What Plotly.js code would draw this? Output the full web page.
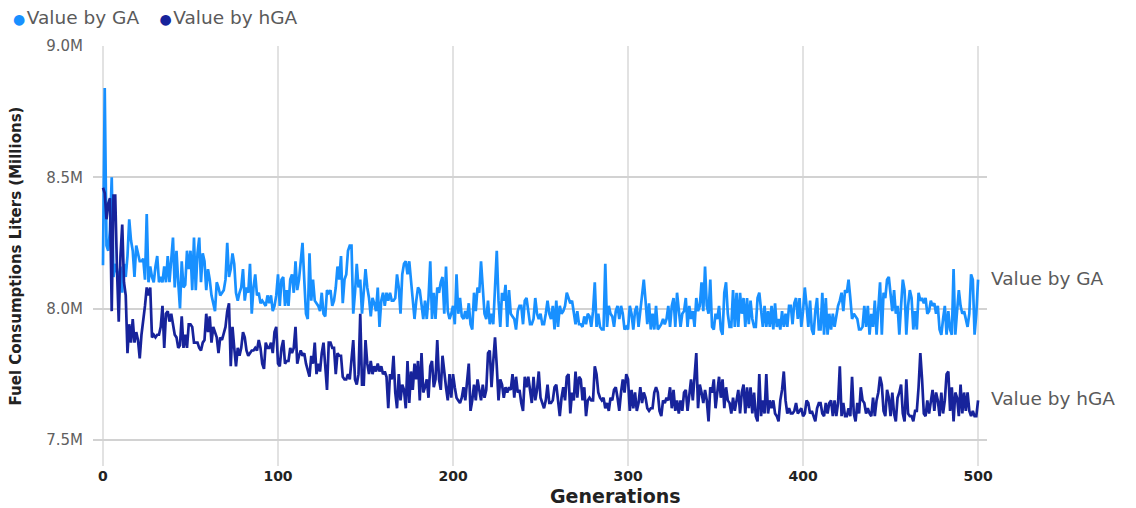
<!DOCTYPE html>
<html>
<head>
<meta charset="utf-8">
<script src="https://cdn.plot.ly/plotly-3.0.1.min.js"></script>
<style>html,body{margin:0;padding:0;background:#fff;}#chart{width:1136px;height:508px;}</style>
</head>
<body>
<div id="chart"></div>
<script>
// Values in millions of litres, one per generation (0..500)
var gaValues = [
8.165,8.84,8.24,8.22,8.30,8.50,8.12,8.17,8.14,8.11,
8.16,8.06,8.17,8.12,8.20,8.34,8.26,8.22,8.12,8.24,
8.21,8.18,8.18,8.19,8.11,8.36,8.10,8.16,8.12,8.10,
8.16,8.20,8.10,8.12,8.10,8.16,8.10,8.20,8.10,8.17,
8.27,8.08,8.22,8.10,8.00,8.18,8.08,8.09,8.22,8.15,
8.22,8.07,8.27,8.07,8.21,8.27,8.10,8.21,8.18,8.07,
8.15,8.11,8.05,8.02,7.99,8.10,8.08,8.05,8.06,8.07,
8.11,8.25,8.12,8.15,8.21,8.17,8.06,8.03,8.06,8.08,
8.15,8.03,8.08,8.06,8.17,7.98,8.08,8.13,8.05,8.06,
8.02,8.03,8.02,8.01,8.05,8.02,8.05,7.99,8.01,8.05,
8.13,
8.01,8.11,8.12,8.01,8.07,8.01,8.11,8.13,8.06,8.18,
8.07,8.11,8.18,8.25,8.11,7.98,7.96,8.21,8.03,8.11,
8.03,8.02,8.01,7.99,8.06,7.98,7.97,8.07,8.06,8.07,
8.01,8.03,8.08,8.16,8.11,8.20,8.02,8.11,8.13,8.22,
8.24,8.24,7.98,8.06,8.17,8.08,8.11,7.98,8.07,8.15,
8.08,8.04,
7.97,8.04,8.02,7.99,8.08,7.93,8.03,8.06,8.01,8.06,
8.03,8.06,8.03,8.03,8.04,8.13,8.08,7.98,8.13,8.17,
8.18,8.13,8.18,8.10,8.02,7.96,8.03,8.08,8.07,8.01,
7.96,8.03,7.96,8.04,8.18,7.96,8.06,7.96,8.08,8.06,
8.10,8.12,7.98,8.16,7.99,7.96,7.98,8.01,7.94,8.13,7.98,8.04,
7.97,7.96,7.99,7.96,8.02,7.94,7.92,8.06,7.99,8.08,
8.06,8.18,8.06,7.98,7.96,8.03,7.94,7.98,7.94,8.06,
8.22,8.03,7.93,8.06,8.03,8.09,7.93,8.07,7.98,7.97,
7.96,7.92,7.99,8.01,8.01,7.94,8.03,8.04,7.98,7.94,
7.94,7.96,8.04,7.98,7.96,7.98,7.94,7.94,7.98,8.03,7.98,
7.96,8.01,7.92,8.03,7.93,8.01,7.98,7.99,8.01,8.06,
8.04,8.02,8.03,7.98,7.94,7.99,7.94,7.94,7.93,7.97,
7.94,7.98,7.97,7.93,7.99,8.10,7.93,7.98,7.93,7.92,
7.92,8.17,7.93,8.01,7.98,7.97,7.93,7.99,8.01,7.96,
8.01,7.98,7.92,7.93,7.92,8.01,7.98,7.92,7.99,8.01,7.93,
7.99,8.04,8.11,8.03,7.94,8.02,7.92,7.98,7.92,8.01,
7.92,7.93,7.94,7.96,7.94,7.96,8.01,7.93,8.01,8.04,
7.93,8.06,7.98,7.93,7.98,7.99,8.04,7.93,8.01,7.96,
7.99,7.93,8.04,7.99,8.01,8.10,7.99,8.16,8.01,7.98,
8.11,7.93,7.92,7.98,7.96,8.01,7.92,7.90,8.06,8.10,7.98,7.93,
7.93,8.07,7.93,8.06,7.93,8.06,7.98,8.04,7.93,8.04,
7.94,8.03,7.96,7.93,7.93,8.04,8.06,7.98,7.93,8.01,
7.93,7.99,7.93,8.01,7.92,8.02,7.93,7.96,7.92,7.99,
7.93,7.98,7.93,8.01,8.01,7.94,8.02,8.04,7.96,8.04,
7.93,7.99,8.08,8.01,7.93,8.03,7.92,7.90,7.99,8.04,7.92,
7.92,8.06,7.90,8.04,7.90,7.98,7.92,7.98,7.93,7.98,
8.01,8.03,8.06,7.99,8.07,8.06,8.11,8.04,7.96,7.98,
7.97,7.96,7.92,7.92,7.93,8.01,7.93,8.01,7.90,7.98,
7.93,8.03,7.90,7.99,8.10,7.90,8.06,8.04,8.11,8.12,
8.06,7.99,8.07,7.98,8.01,7.90,8.01,8.11,8.07,7.90,8.01,8.07,
8.04,7.92,7.99,7.92,8.06,8.03,8.04,8.02,8.04,7.98,
7.99,8.03,8.01,8.02,7.98,8.01,7.92,7.90,7.96,8.01,
7.90,7.99,7.92,7.90,8.15,7.90,7.99,8.07,8.01,7.98,
7.99,7.96,7.93,7.98,8.13,8.11,7.90,7.98,8.11
];
var hgaValues = [
8.46,8.44,8.34,8.40,8.42,7.99,8.43,8.43,8.15,7.95,
8.20,8.32,8.10,8.05,7.83,7.94,7.87,7.96,7.87,7.91,
7.88,7.81,7.90,7.95,8.01,8.08,8.05,8.08,7.89,7.90,
7.89,7.90,7.90,7.93,8.01,7.85,7.98,7.99,7.95,7.98,
7.93,7.90,7.89,7.85,7.86,7.97,7.85,7.90,7.85,7.94,
7.94,7.93,7.87,7.87,7.87,7.85,7.84,7.87,7.88,7.98,
7.91,7.97,7.87,7.93,7.91,7.89,7.83,7.89,7.88,7.91,
7.93,7.99,8.02,7.78,7.93,7.85,7.78,7.85,7.82,7.85,
7.91,7.89,7.84,7.82,7.83,7.84,7.84,7.85,7.84,7.88,
7.85,7.79,7.77,7.87,7.85,7.85,7.87,7.83,7.91,7.93,
7.79,
7.78,7.85,7.88,7.79,7.80,7.80,7.85,7.83,7.85,7.93,
7.79,7.82,7.84,7.82,7.83,7.79,7.76,7.74,7.82,7.79,
7.87,7.75,7.79,7.76,7.83,7.87,7.78,7.69,7.87,7.87,
7.85,7.85,7.75,7.83,7.82,7.82,7.74,7.73,7.73,7.75,
7.73,7.80,7.88,7.73,7.71,7.75,7.98,7.71,7.71,7.88,
7.79,7.75,
7.80,7.75,7.78,7.76,7.79,7.76,7.78,7.75,7.76,7.74,
7.62,7.75,7.73,7.82,7.68,7.62,7.75,7.65,7.71,7.69,
7.62,7.80,7.64,7.76,7.69,7.79,7.73,7.80,7.65,7.83,
7.68,7.70,7.73,7.66,7.78,7.80,7.70,7.73,7.88,7.73,
7.69,7.82,7.75,7.70,7.65,7.75,7.66,7.75,7.70,7.66,7.65,7.64,
7.66,7.70,7.65,7.73,7.79,7.61,7.65,7.71,7.65,7.73,
7.69,7.65,7.71,7.66,7.69,7.83,7.84,7.70,7.80,7.89,
7.78,7.65,7.73,7.71,7.66,7.70,7.68,7.70,7.69,7.75,
7.66,7.74,7.68,7.69,7.64,7.61,7.74,7.70,7.74,7.68,
7.64,7.74,7.65,7.69,7.76,7.66,7.64,7.62,7.65,7.71,7.64,
7.64,7.65,7.70,7.71,7.65,7.59,7.66,7.70,7.65,7.74,
7.75,7.60,7.68,7.65,7.76,7.66,7.74,7.73,7.65,7.70,
7.59,7.65,7.66,7.65,7.65,7.78,7.75,7.68,7.66,7.65,
7.66,7.62,7.64,7.61,7.66,7.65,7.69,7.70,7.66,7.61,
7.68,7.73,7.68,7.75,7.73,7.61,7.69,7.62,7.68,7.61,7.64,
7.70,7.64,7.68,7.66,7.62,7.61,7.62,7.62,7.68,7.70,
7.68,7.61,7.59,7.65,7.64,7.66,7.65,7.70,7.62,7.69,
7.61,7.65,7.60,7.65,7.61,7.68,7.69,7.61,7.68,7.73,
7.65,7.74,7.83,7.62,7.71,7.68,7.64,7.69,7.65,7.57,
7.70,7.68,7.73,7.62,7.68,7.74,7.66,7.73,7.62,7.70,7.65,7.64,
7.60,7.66,7.61,7.65,7.69,7.60,7.68,7.71,7.60,7.70,
7.62,7.70,7.60,7.68,7.59,7.57,7.75,7.59,7.65,7.60,
7.75,7.60,7.65,7.62,7.65,7.60,7.59,7.57,7.65,7.69,
7.76,7.65,7.60,7.62,7.60,7.60,7.61,7.64,7.60,7.61,
7.62,7.59,7.60,7.65,7.64,7.60,7.61,7.59,7.57,7.62,7.64,
7.64,7.60,7.59,7.64,7.60,7.64,7.65,7.59,7.65,7.59,
7.64,7.78,7.59,7.64,7.59,7.59,7.62,7.59,7.74,7.60,
7.57,7.64,7.60,7.70,7.65,7.64,7.60,7.62,7.60,7.59,
7.66,7.59,7.65,7.68,7.74,7.71,7.61,7.59,7.69,7.66,
7.59,7.68,7.60,7.57,7.66,7.68,7.71,7.60,7.57,7.73,7.60,7.59,
7.59,7.57,7.61,7.61,7.70,7.83,7.73,7.60,7.59,7.65,
7.60,7.65,7.69,7.61,7.68,7.65,7.59,7.68,7.60,7.65,
7.75,7.76,7.61,7.70,7.57,7.68,7.66,7.59,7.71,7.60,
7.68,7.61,7.68,7.61,7.59,7.61,7.59,7.59,7.65
];
var generations = gaValues.map(function (_, i) { return i; });
var seriesNames = ["Value by GA", "Value by hGA"];
var seriesColors = ["#1890FF", "#17239B"];
var xTickVals = [0, 100, 200, 300, 400, 500];
var yTickVals = [7.5, 8.0, 8.5, 9.0];
var yTickText = ["7.5M", "8.0M", "8.5M", "9.0M"];
var xTitle = "Generations";
var yTitle = "Fuel Consumptions Liters (Millions)";

var traces = [
  {x: generations, y: gaValues, name: seriesNames[0], type: "scatter", mode: "lines",
   line: {color: seriesColors[0], width: 2.7}, showlegend: false},
  {x: generations, y: hgaValues, name: seriesNames[1], type: "scatter", mode: "lines",
   line: {color: seriesColors[1], width: 2.7}, showlegend: false}
];

var gray = "#5a5a5a";
var fam = "DejaVu Sans, sans-serif";
var dot = function (c) { return "<span style='color:" + c + ";font-size:14px'>●</span><span style='font-size:5px'> </span>"; };
var layout = {
  width: 1136, height: 508,
  margin: {l: 93, r: 149, t: 46, b: 42, pad: 0},
  paper_bgcolor: "#ffffff", plot_bgcolor: "#ffffff",
  showlegend: false,
  font: {family: fam, color: gray},
  xaxis: {
    range: [-5.7, 505.1], tickvals: xTickVals, ticktext: xTickVals.map(String),
    showgrid: true, gridcolor: "#e2e2e2", gridwidth: 2, zeroline: false, showline: false,
    ticks: "", tickfont: {family: fam, size: 14, color: "#222", weight: "bold"}
  },
  yaxis: {
    range: [7.4, 9.0], tickvals: yTickVals, ticktext: yTickText,
    showgrid: true, gridcolor: "#d2d2d2", gridwidth: 2, zeroline: false, showline: false,
    ticks: "", ticklabelstandoff: 9,
    tickfont: {family: fam, size: 15, color: "#606060"},
    title: {text: "<b>" + yTitle + "</b>", font: {family: fam, size: 15, color: "#222"}, standoff: 20}
  },
  annotations: [
    {xref: "paper", yref: "paper", x: -0.0915, y: 1.068, xanchor: "left", yanchor: "middle", showarrow: false,
     text: dot(seriesColors[0]) + seriesNames[0] + "<span style='font-size:16px'>    </span>" + dot(seriesColors[1]) + seriesNames[1],
     font: {family: fam, size: 18.5, color: gray}},
    {xref: "paper", yref: "paper", x: 0.584, y: -0.071, xanchor: "center", yanchor: "middle", showarrow: false,
     text: "<b>" + xTitle + "</b>", font: {family: fam, size: 19, color: "#222"}},
    {xref: "paper", yref: "y", x: 1, y: gaValues[gaValues.length - 1] + 0.005, xanchor: "left", yanchor: "middle", xshift: 2,
     showarrow: false, text: seriesNames[0], font: {family: fam, size: 18.5, color: gray}},
    {xref: "paper", yref: "y", x: 1, y: hgaValues[hgaValues.length - 1] + 0.008, xanchor: "left", yanchor: "middle", xshift: 2,
     showarrow: false, text: seriesNames[1], font: {family: fam, size: 18.5, color: gray}}
  ]
};

Plotly.newPlot("chart", traces, layout, {displayModeBar: false, staticPlot: true});
</script>
</body>
</html>
